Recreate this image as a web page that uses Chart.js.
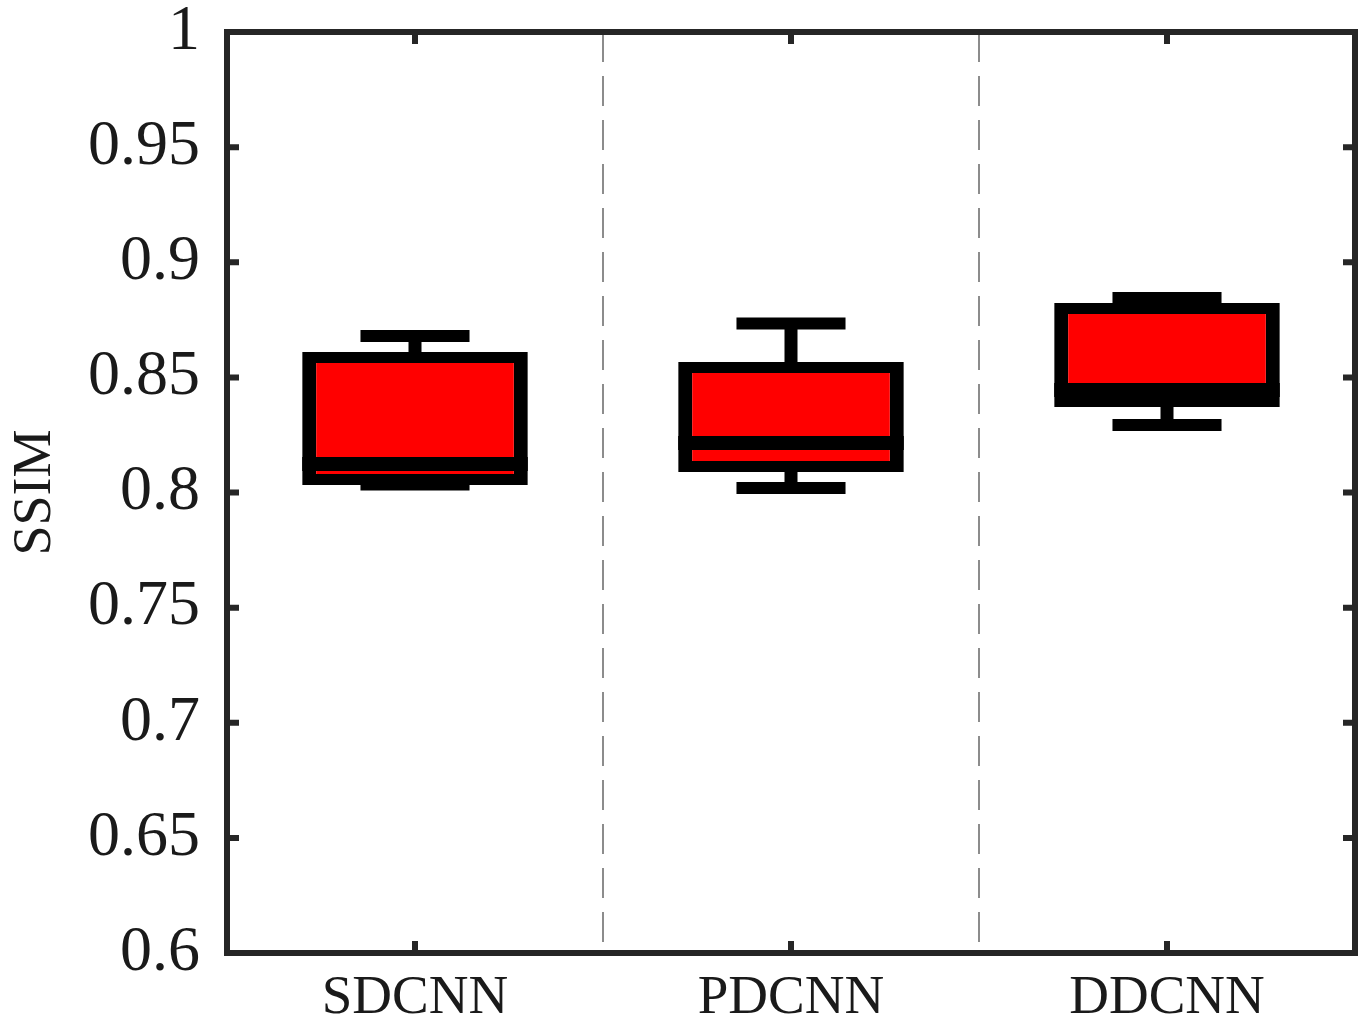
<!DOCTYPE html>
<html>
<head>
<meta charset="utf-8">
<script src="https://cdn.jsdelivr.net/npm/chart.js@4.4.0/dist/chart.umd.min.js"></script>
<style>
html, body { margin: 0; padding: 0; background: #fff; }
</style>
</head>
<body>
<canvas id="box-chart" width="1365" height="1028"></canvas>
<script>
// data //
//////////
var categories = ["SDCNN", "PDCNN", "DDCNN"]
var lowWhisker = [0.8035, 0.8020, 0.8293]
var lowerQuartile = [0.8033, 0.8089, 0.8371]
var median = [0.8124, 0.8215, 0.8445]
var upperQuartile = [0.8610, 0.8567, 0.8823]
var highWhisker = [0.8680, 0.8734, 0.8845]
var yMin = 0.6
var yMax = 1
var yStep = 0.05

var frameColor = "#262626"

// whiskers, caps, medians and the box frame //
///////////////////////////////////////////////
const boxParts = {
    id: "boxParts",
    beforeDatasetsDraw(chart) {
        var ctx = chart.ctx
        var x = chart.scales.x
        var y = chart.scales.y
        var capHalf = (x.getPixelForValue(1) - x.getPixelForValue(0)) * 0.145
        ctx.save()
        ctx.strokeStyle = "#000"
        ctx.lineCap = "butt"
        for (var i = 0; i < categories.length; i++) {
            var cx = x.getPixelForValue(i)
            ctx.lineWidth = 13
            ctx.beginPath()
            ctx.moveTo(cx, y.getPixelForValue(highWhisker[i]))
            ctx.lineTo(cx, y.getPixelForValue(upperQuartile[i]))
            ctx.moveTo(cx, y.getPixelForValue(lowerQuartile[i]))
            ctx.lineTo(cx, y.getPixelForValue(lowWhisker[i]))
            ctx.stroke()

            ctx.lineWidth = 12
            ctx.beginPath()
            ctx.moveTo(cx - capHalf, y.getPixelForValue(highWhisker[i]))
            ctx.lineTo(cx + capHalf, y.getPixelForValue(highWhisker[i]))
            ctx.moveTo(cx - capHalf, y.getPixelForValue(lowWhisker[i]))
            ctx.lineTo(cx + capHalf, y.getPixelForValue(lowWhisker[i]))
            ctx.stroke()
        }
        ctx.restore()
    },
    afterDatasetsDraw(chart) {
        var ctx = chart.ctx
        var x = chart.scales.x
        var y = chart.scales.y
        var area = chart.chartArea
        var bars = chart.getDatasetMeta(0).data
        ctx.save()
        ctx.strokeStyle = "#000"
        ctx.lineWidth = 14
        for (var i = 0; i < bars.length; i++) {
            var my = y.getPixelForValue(median[i])
            ctx.beginPath()
            ctx.moveTo(bars[i].x - bars[i].width / 2, my)
            ctx.lineTo(bars[i].x + bars[i].width / 2, my)
            ctx.stroke()
        }

        // frame
        ctx.strokeStyle = frameColor
        ctx.lineWidth = 6
        ctx.strokeRect(area.left, area.top, area.right - area.left, area.bottom - area.top)

        // inward ticks
        var tl = 12
        ctx.beginPath()
        y.ticks.forEach(function (t) {
            var py = y.getPixelForValue(t.value)
            ctx.moveTo(area.left, py)
            ctx.lineTo(area.left + tl, py)
            ctx.moveTo(area.right, py)
            ctx.lineTo(area.right - tl, py)
        })
        for (var j = 0; j < categories.length; j++) {
            var px = x.getPixelForValue(j)
            ctx.moveTo(px, area.bottom)
            ctx.lineTo(px, area.bottom - tl)
            ctx.moveTo(px, area.top)
            ctx.lineTo(px, area.top + tl)
        }
        ctx.stroke()
        ctx.restore()
    }
}

var boxes = categories.map(function (c, i) {
    return [lowerQuartile[i], upperQuartile[i]]
})

var chart = new Chart(document.getElementById("box-chart"), {
    type: "bar",
    data: {
        labels: categories,
        datasets: [
            {
                label: "SSIM",
                data: boxes,
                backgroundColor: "#ff0000",
                borderColor: "#000000",
                borderWidth: { top: 11, bottom: 11, left: 14, right: 14 },
                borderSkipped: false,
                barPercentage: 0.6,
                categoryPercentage: 1
            }
        ]
    },
    options: {
        responsive: false,
        devicePixelRatio: 1,
        animation: false,
        layout: {
            padding: { top: 32, right: 10, bottom: 0, left: 0 }
        },
        plugins: {
            legend: { display: false },
            tooltip: { enabled: false }
        },
        scales: {
            x: {
                afterFit: function (scale) {
                    scale.height = 75
                    scale.paddingLeft = 0
                    scale.paddingRight = 0
                },
                border: { display: false, dash: [30, 14] },
                grid: {
                    display: true,
                    offset: true,
                    drawTicks: false,
                    color: "#8c8c8c",
                    lineWidth: 2
                },
                ticks: {
                    padding: 13,
                    color: "#1a1a1a",
                    font: { family: "Liberation Serif", size: 55 }
                }
            },
            y: {
                min: yMin,
                max: yMax,
                afterFit: function (scale) {
                    scale.width = 227
                    scale.paddingTop = 0
                    scale.paddingBottom = 0
                },
                border: { display: false },
                grid: { display: false, drawTicks: false },
                ticks: {
                    stepSize: yStep,
                    padding: 27,
                    color: "#1a1a1a",
                    font: { family: "Liberation Serif", size: 64, lineHeight: 0.95 },
                    callback: function (v) { return String(parseFloat(v.toFixed(2))) }
                },
                title: {
                    display: true,
                    text: "SSIM",
                    color: "#1a1a1a",
                    padding: { top: 3, bottom: 0 },
                    font: { family: "Liberation Serif", size: 54 }
                }
            }
        }
    },
    plugins: [boxParts]
})
</script>
</body>
</html>
